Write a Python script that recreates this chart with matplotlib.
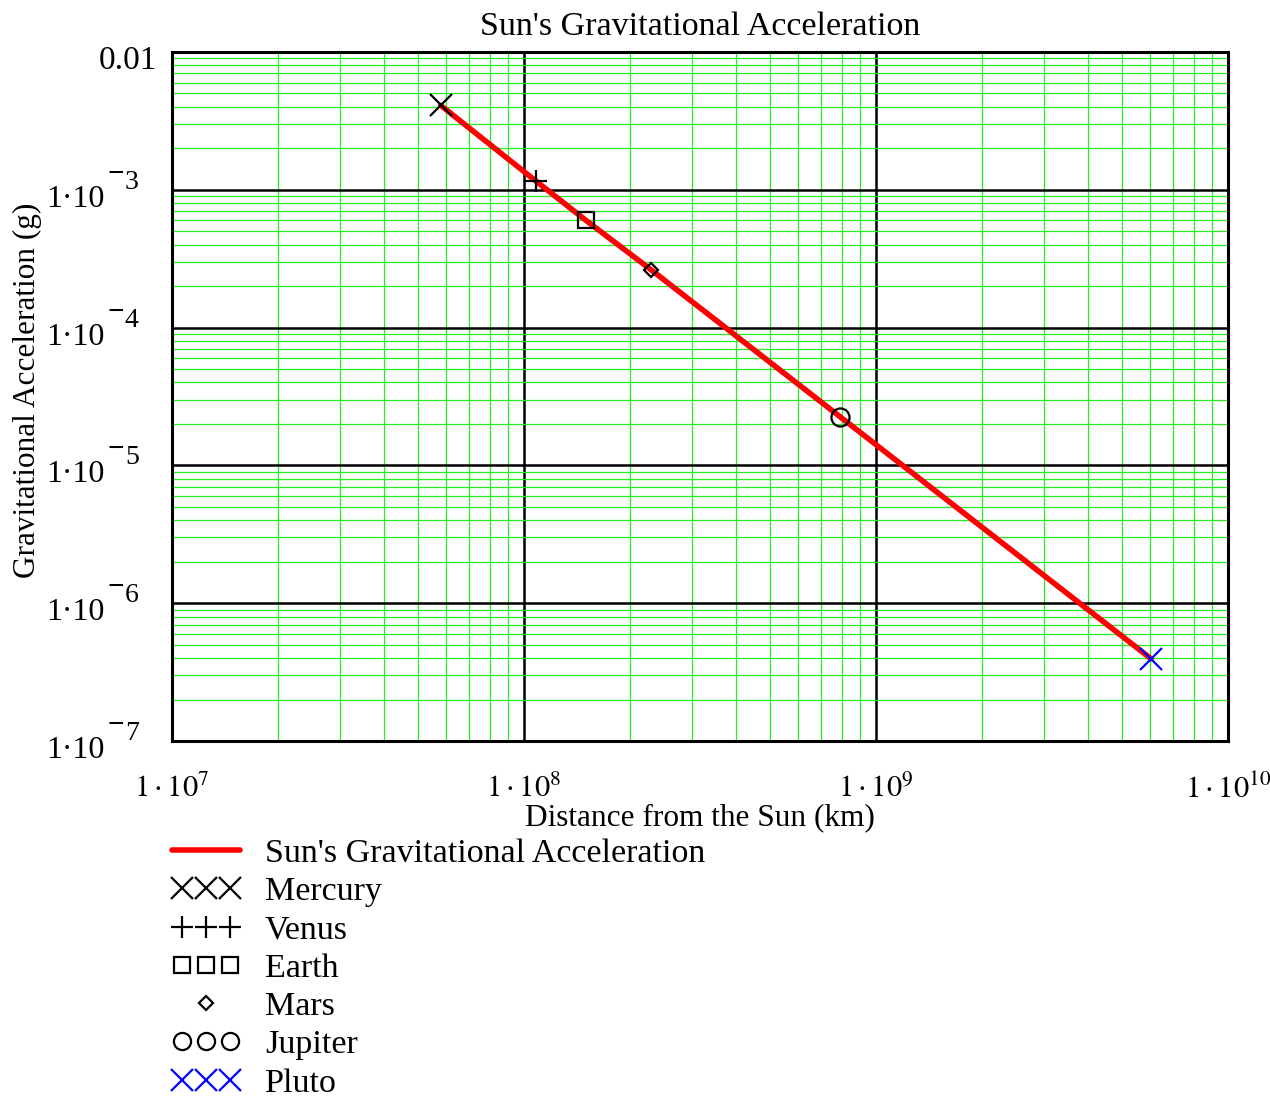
import matplotlib
matplotlib.use("Agg")
import matplotlib.pyplot as plt
from matplotlib.ticker import LogLocator, FixedLocator, NullFormatter
from matplotlib.legend_handler import HandlerLine2D

planets = ["Mercury", "Venus", "Earth", "Mars", "Jupiter", "Pluto"]
distance_km = [5.8e7, 1.08e8, 1.5e8, 2.3e8, 7.9e8, 6.05e9]
accel_g = [4.1e-3, 1.16e-3, 6.0e-4, 2.62e-4, 2.26e-5, 3.95e-7]

# Line drawn through the same points (it is straight in log-log)
line_x = distance_km
line_y = accel_g

markers = ["x", "+", "s", "D", "o", "x"]
marker_sizes = [16, 16, 12, 7, 13, 16]
marker_colors = ["black", "black", "black", "black", "black", "blue"]

x_ticks = [1e7, 1e8, 1e9, 1e10]
x_labels = [r"$1\cdot10^{7}$", r"$1\cdot10^{8}$", r"$1\cdot10^{9}$", r"$1\cdot10^{10}$"]
y_ticks = [1e-7, 1e-6, 1e-5, 1e-4, 1e-3, 1e-2]
y_exponents = ["7", "6", "5", "4", "3", None]
top_label = "0.01"

plt.rcParams["font.family"] = ["Liberation Serif", "DejaVu Serif"]
plt.rcParams["mathtext.fontset"] = "stix"

fig = plt.figure(figsize=(12.7, 10.99), dpi=100)
ax = fig.add_axes([0.1354, 0.3257, 0.8315, 0.627])

ax.set_xscale("log")
ax.set_yscale("log")
ax.set_xlim(1e7, 1e10)
ax.set_ylim(1e-7, 1e-2)

# Grid: green minor lines, black major lines
ax.xaxis.set_major_locator(FixedLocator(x_ticks))
ax.yaxis.set_major_locator(FixedLocator(y_ticks))
ax.xaxis.set_minor_locator(LogLocator(base=10, subs=range(2, 10), numticks=20))
ax.yaxis.set_minor_locator(LogLocator(base=10, subs=range(2, 10), numticks=20))
ax.xaxis.set_minor_formatter(NullFormatter())
ax.yaxis.set_minor_formatter(NullFormatter())
ax.grid(True, which="minor", color="#22ee22", linewidth=0.9)
ax.grid(True, which="major", color="black", linewidth=1.8)
ax.set_axisbelow(True)
ax.tick_params(which="both", length=0)

ax.set_xticks(x_ticks)
ax.set_xticklabels(x_labels, fontsize=22)
ax.tick_params(axis="x", pad=24)

# Y tick labels in Mathcad style: "1·10" with a big raised exponent
ax.set_yticks(y_ticks)
ax.set_yticklabels([])
ytr = ax.get_yaxis_transform()
for val, ex in zip(y_ticks, y_exponents):
    if ex is None:
        ax.annotate(top_label, xy=(0, val), xycoords=ytr, xytext=(-15, -17),
                    textcoords="offset pixels", ha="right", va="baseline",
                    fontsize=24, annotation_clip=False)
        continue
    ax.annotate("1·10", xy=(0, val), xycoords=ytr, xytext=(-67, -17),
                textcoords="offset pixels", ha="right", va="baseline",
                fontsize=23, annotation_clip=False)
    ax.annotate("\u2212", xy=(0, val), xycoords=ytr, xytext=(-64, 8),
                textcoords="offset pixels", ha="left", va="baseline",
                fontsize=21, fontweight="bold", annotation_clip=False)
    ax.annotate(ex, xy=(0, val), xycoords=ytr, xytext=(-47, 1),
                textcoords="offset pixels", ha="left", va="baseline",
                fontsize=20, annotation_clip=False)

for s in ax.spines.values():
    s.set_linewidth(2.2)

line, = ax.plot(line_x, line_y, color="red", linewidth=4, solid_capstyle="round",
                label="Sun's Gravitational Acceleration", zorder=3)

handles = [line]
for name, x, y, m, ms, c in zip(planets, distance_km, accel_g, markers, marker_sizes, marker_colors):
    h, = ax.plot([x], [y], linestyle="none", marker=m, markersize=ms,
                 markerfacecolor="none", markeredgecolor=c, markeredgewidth=1.6,
                 label=name, zorder=4)
    handles.append(h)

ax.set_title("Sun's Gravitational Acceleration", fontsize=24.5, pad=12)
ax.set_xlabel("Distance from the Sun (km)", fontsize=22.5)
ax.set_ylabel("Gravitational Acceleration (g)", fontsize=22.5)
ax.xaxis.set_label_coords(0.5, -0.111)
ax.xaxis.label.set_va("center")
ax.yaxis.set_label_coords(-0.137, 0.509)
ax.yaxis.label.set_va("center")

# Legend below the plot, Mars shows one marker only
hmap = {handles[0]: HandlerLine2D(marker_pad=0),
        handles[4]: HandlerLine2D(numpoints=1)}
leg = fig.legend(handles=handles, loc="upper left", bbox_to_anchor=(0.1354, 0.2375),
                 frameon=False, fontsize=24.5, numpoints=3, handlelength=2.0,
                 handletextpad=0.73, labelspacing=0.22, borderaxespad=0,
                 borderpad=0, markerscale=0.95, handler_map=hmap)

plt.savefig("out.png", dpi=100)
